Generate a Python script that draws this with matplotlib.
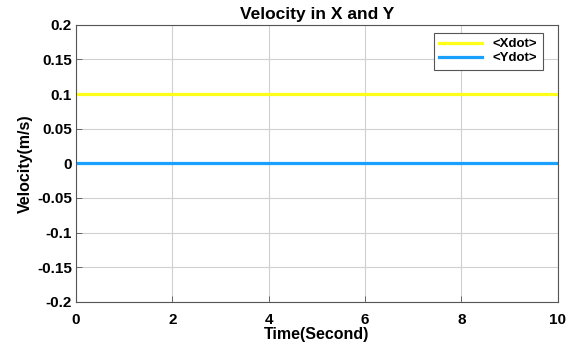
import numpy as np
import matplotlib
matplotlib.use("Agg")
import matplotlib.pyplot as plt

plt.rcParams['font.family'] = ['Liberation Sans', 'DejaVu Sans']
plt.rcParams['font.weight'] = 'bold'

# data
time = [0, 10]
xdot = [0.1, 0.1]
ydot = [0.0, 0.0]
xticks = [0, 2, 4, 6, 8, 10]
yticks = [-0.2, -0.15, -0.1, -0.05, 0, 0.05, 0.1, 0.15, 0.2]
ytick_labels = ['-0.2', '-0.15', '-0.1', '-0.05', '0', '0.05', '0.1', '0.15', '0.2']

fig = plt.figure(figsize=(5.71, 3.45), dpi=100)
ax = fig.add_axes([0.133, 0.125, 0.844, 0.803])

ax.plot(time, xdot, color='#FFFF1A', lw=2.3, label='<Xdot>')
ax.plot(time, ydot, color='#1AA0FF', lw=2.3, label='<Ydot>')

ax.set_xlim(0, 10)
ax.set_ylim(-0.2, 0.2)
ax.set_xticks(xticks)
ax.set_yticks(yticks)
ax.set_yticklabels(ytick_labels)
ax.tick_params(labelsize=11, length=4, width=0.6, color='#555555', direction='in')
ax.tick_params(axis='x', pad=8)
ax.tick_params(axis='y', pad=3)
ax.grid(True, color='#D0D0D0', lw=0.8)
for s in ax.spines.values():
    s.set_color('#555555')
    s.set_linewidth(0.8)

ax.set_title('Velocity in X and Y', fontsize=12.5, fontweight='bold', pad=4)
ax.set_xlabel('Time(Second)', fontsize=11.5, fontweight='bold', labelpad=0)
ax.set_ylabel('Velocity(m/s)', fontsize=11.5, fontweight='bold', labelpad=3)

leg = ax.legend(loc='upper right', fontsize=9.5, fancybox=False, framealpha=1,
                edgecolor='#555555', handlelength=3.3, borderaxespad=0.6,
                labelspacing=0.15, bbox_to_anchor=(0.985, 1.0))
leg.get_frame().set_linewidth(0.8)

fig.savefig('out.png', dpi=100)
